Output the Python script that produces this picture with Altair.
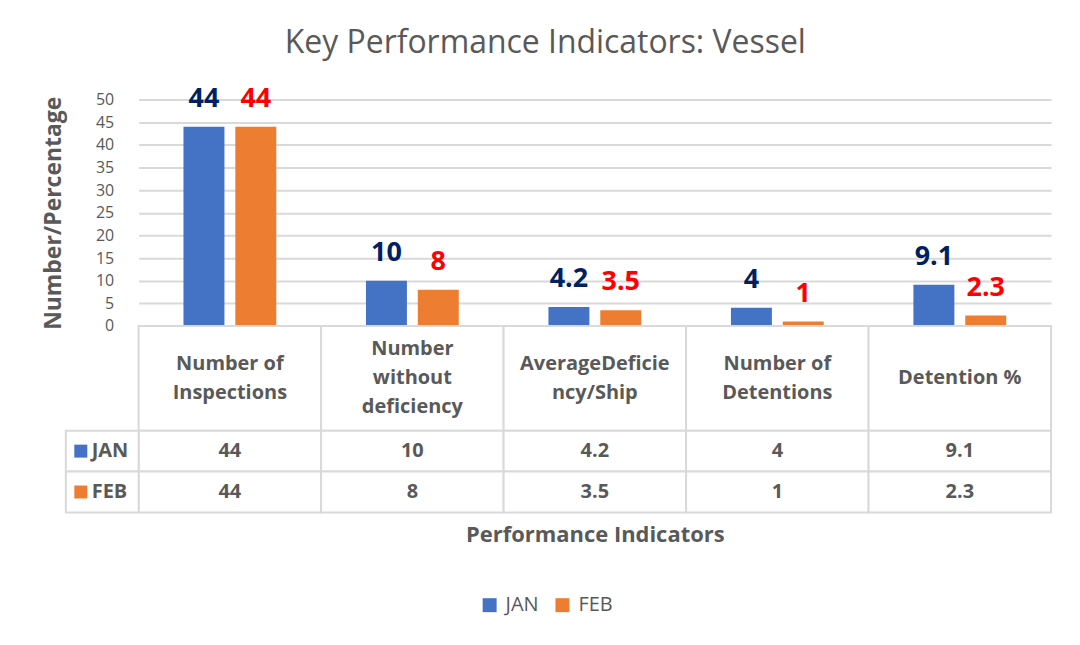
import altair as alt
import pandas as pd

# ---------------- data ----------------
categories = [
    "Number of Inspections",
    "Number without deficiency",
    "AverageDeficiency/Ship",
    "Number of Detentions",
    "Detention %",
]
header_labels = [
    "Number of\nInspections",
    "Number\nwithout\ndeficiency",
    "AverageDeficie\nncy/Ship",
    "Number of\nDetentions",
    "Detention %",
]
months = ["JAN", "FEB"]
jan_values = [44, 10, 4.2, 4, 9.1]
feb_values = [44, 8, 3.5, 1, 2.3]
y_ticks = [0, 5, 10, 15, 20, 25, 30, 35, 40, 45, 50]

# ---------------- styles ----------------
BLUE = "#4472C4"
ORANGE = "#ED7D31"
GRAY = "#595959"
GRID = "#D9D9D9"
FONT = "Open Sans"
W = 915
PLOT_H = 227
HEAD_H = 105
ROW_H = 41
LINE_H = 29
TBL_FS = 20

rows = []
for c, j, f in zip(categories, jan_values, feb_values):
    rows.append({"cat": c, "month": "JAN", "value": j, "label": f"{j:g}"})
    rows.append({"cat": c, "month": "FEB", "value": f, "label": f"{f:g}"})
df = pd.DataFrame(rows)

xscale = alt.Scale(domain=categories, paddingInner=0, paddingOuter=0)
x_enc = alt.X("cat:N", sort=categories, scale=xscale, axis=None)
xo = alt.XOffset(
    "month:N",
    sort=months,
    scale=alt.Scale(domain=months, paddingInner=0.21, paddingOuter=0.865),
)
yscale = alt.Scale(domain=[0, 50], nice=False)
y_axis = alt.Axis(
    values=y_ticks,
    labelOverlap=False,
    title="Number/Percentage",
    titleFont=FONT,
    titleFontSize=23,
    titleFontWeight="bold",
    titleColor=GRAY,
    titlePadding=30,
    labelFont=FONT,
    labelFontSize=16,
    labelColor=GRAY,
    labelPadding=25,
    ticks=False,
    domain=False,
    grid=True,
    gridColor=GRID,
    gridWidth=2,
)
y_enc = alt.Y("value:Q", scale=yscale, axis=y_axis)

bars = alt.Chart(df).mark_bar().encode(
    x=x_enc,
    xOffset=xo,
    y=y_enc,
    color=alt.Color(
        "month:N",
        sort=months,
        scale=alt.Scale(domain=months, range=[BLUE, ORANGE]),
        legend=alt.Legend(
            orient="none",
            legendX=342,
            legendY=497,
            direction="horizontal",
            title=None,
            symbolType="square",
            symbolSize=196,
            symbolStrokeWidth=0,
            labelFont=FONT,
            labelFontSize=20,
            labelColor=GRAY,
            columnPadding=13,
            labelOffset=6,
        ),
    ),
)

lab_jan = (
    alt.Chart(df)
    .transform_filter("datum.month == 'JAN'")
    .mark_text(dy=-28, fontSize=27, fontWeight="bold", color="#002060", font=FONT)
    .encode(x=x_enc, xOffset=xo, y=y_enc, text="label:N")
)
lab_feb = (
    alt.Chart(df)
    .transform_filter("datum.month == 'FEB'")
    .mark_text(dy=-28, fontSize=27, fontWeight="bold", color="#FF0000", font=FONT)
    .encode(x=x_enc, xOffset=xo, y=y_enc, text="label:N")
)

top = alt.layer(bars, lab_jan, lab_feb).properties(width=W, height=PLOT_H)

# ---------------- table: header row ----------------
hdr_df = pd.DataFrame({"cat": categories, "header": header_labels})
hdr_cells = alt.Chart(hdr_df).mark_rect(fill="white", stroke=GRID, strokeWidth=2).encode(
    x=x_enc, y=alt.value(0), y2=alt.value(HEAD_H)
)


def hdr_text_layer(n_lines):
    return (
        alt.Chart(hdr_df)
        .transform_calculate(n="length(split(datum.header, '\\n'))")
        .transform_filter(f"datum.n == {n_lines}")
        .mark_text(
            lineBreak="\n", fontSize=TBL_FS, fontWeight="bold", color=GRAY, font=FONT,
            lineHeight=LINE_H, baseline="middle", dy=-(n_lines - 1) * LINE_H / 2,
        )
        .encode(x=x_enc, y=alt.value(HEAD_H / 2), text="header:N")
    )


header = alt.layer(
    hdr_cells, hdr_text_layer(1), hdr_text_layer(2), hdr_text_layer(3)
).properties(width=W, height=HEAD_H)


def row_chart(month, values, color, last):
    rdf = pd.DataFrame({"cat": categories, "label": [f"{v:g}" for v in values]})
    kdf = pd.DataFrame({"month": [month]})
    if last:
        xe = alt.X(
            "cat:N", sort=categories, scale=xscale,
            axis=alt.Axis(
                labels=False, ticks=False, domain=False, grid=False,
                title="Performance Indicators", titleFont=FONT, titleFontSize=22,
                titleFontWeight="bold", titleColor=GRAY, titlePadding=12,
            ),
        )
    else:
        xe = x_enc
    cells = alt.Chart(rdf).mark_rect(fill="white", stroke=GRID, strokeWidth=2).encode(
        x=xe, y=alt.value(0), y2=alt.value(ROW_H)
    )
    txt = alt.Chart(rdf).mark_text(
        fontSize=TBL_FS, fontWeight="bold", color=GRAY, font=FONT
    ).encode(x=xe, y=alt.value(ROW_H / 2), text="label:N")
    kcell = alt.Chart(kdf).mark_rect(fill="white", stroke=GRID, strokeWidth=2).encode(
        x=alt.value(-73), x2=alt.value(0), y=alt.value(0), y2=alt.value(ROW_H)
    )
    ksq = alt.Chart(kdf).mark_square(size=169, opacity=1, color=color).encode(
        x=alt.value(-58), y=alt.value(ROW_H / 2)
    )
    ktxt = alt.Chart(kdf).mark_text(
        align="left", fontSize=TBL_FS, fontWeight="bold", color=GRAY, font=FONT
    ).encode(x=alt.value(-47), y=alt.value(ROW_H / 2), text="month:N")
    return alt.layer(cells, txt, kcell, ksq, ktxt).properties(width=W, height=ROW_H)


jan_row = row_chart("JAN", jan_values, BLUE, False)
feb_row = row_chart("FEB", feb_values, ORANGE, True)

chart = (
    alt.vconcat(top, header, jan_row, feb_row, spacing=0, bounds="flush")
    .properties(
        title=alt.Title(
            "Key Performance Indicators: Vessel",
            font=FONT,
            fontSize=32,
            fontWeight="normal",
            color=GRAY,
            anchor="middle",
            offset=25,
            dx=-2,
        ),
        padding={"left": 34, "top": 18, "right": 20, "bottom": 10},
    )
    .configure_view(stroke=None)
    .configure_concat(spacing=0)
)

chart.save("out.html", embed_options={"renderer": "svg", "actions": False})
